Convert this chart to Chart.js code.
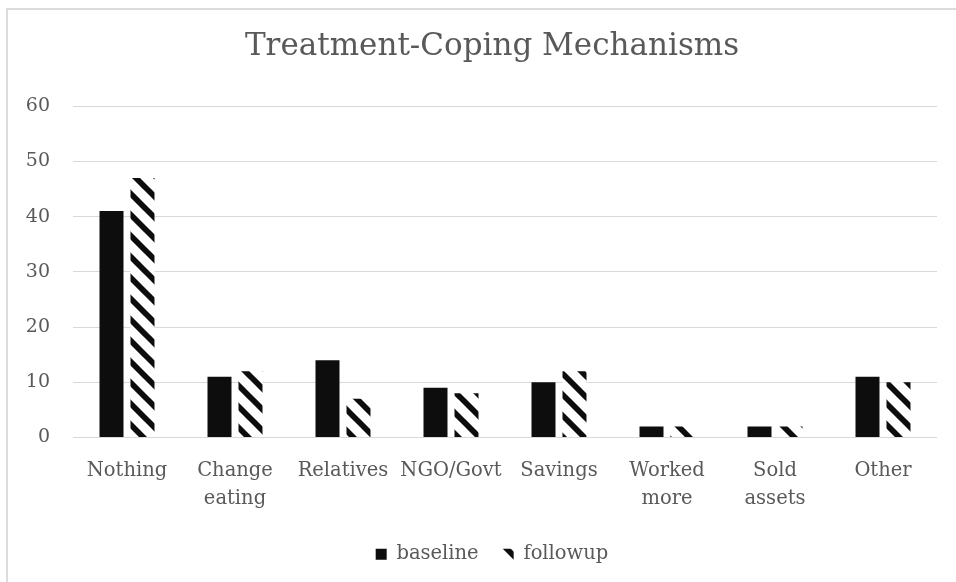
<!DOCTYPE html>
<html>
<head>
<meta charset="utf-8">
<script src="https://cdn.jsdelivr.net/npm/chart.js@4.4.1/dist/chart.umd.min.js"></script>
<style>
  html, body { margin: 0; padding: 0; background: #fff; overflow: hidden; width: 956px; height: 582px; }
  #frame {
    position: absolute; left: 6px; top: 8px; width: 1000px; height: 1000px;
    border: 2px solid #dcdcdc; box-sizing: border-box;
  }
  #chart { position: absolute; left: 0; top: 0; }
</style>
</head>
<body>
<div id="frame"></div>
<canvas id="chart" width="1003" height="582"></canvas>
<script>
const categories = [
  ["Nothing"], ["Change", "eating"], ["Relatives"], ["NGO/Govt"],
  ["Savings"], ["Worked", "more"], ["Sold", "assets"], ["Other"]
];
const baseline = [41, 11, 14, 9, 10, 2, 2, 11];
const followup = [47, 12, 7, 8, 12, 2, 2, 10];
const yMin = 0;
const yMax = 60;
const yStep = 10;

const textColor = "#595959";
const serif = "'DejaVu Serif', 'Liberation Serif', serif";

// wide downward diagonal hatch for the followup series
function makeHatch() {
  const p = 21;
  const c = document.createElement("canvas");
  c.width = p;
  c.height = p;
  const g = c.getContext("2d");
  g.fillStyle = "#fff";
  g.fillRect(0, 0, p, p);
  g.strokeStyle = "#0d0d0d";
  g.lineWidth = 5.8;
  [-p, 0, p].forEach((dx) => {
    g.beginPath();
    g.moveTo(dx - 2, -2);
    g.lineTo(dx + p + 2, p + 2);
    g.stroke();
  });
  return g.createPattern(c, "repeat");
}

const ctx = document.getElementById("chart").getContext("2d");
const hatch = makeHatch();

new Chart(ctx, {
  type: "bar",
  data: {
    labels: categories,
    datasets: [
      {
        label: "baseline",
        data: baseline,
        backgroundColor: "#0d0d0d",
        borderWidth: 0,
        barPercentage: 0.774,
        categoryPercentage: 0.574
      },
      {
        label: "followup",
        data: followup,
        backgroundColor: hatch,
        borderWidth: 0,
        barPercentage: 0.774,
        categoryPercentage: 0.574
      }
    ]
  },
  options: {
    responsive: false,
    animation: false,
    devicePixelRatio: 1,
    layout: { padding: { left: 0, right: 19, top: 8, bottom: 8 } },
    plugins: {
      tooltip: { enabled: false },
      title: {
        display: true,
        text: "Treatment-Coping Mechanisms",
        color: textColor,
        font: { family: serif, size: 31, weight: "normal", lineHeight: 1.2 },
        padding: { top: 20, bottom: 41 }
      },
      legend: {
        position: "bottom",
        labels: {
          color: textColor,
          font: { family: serif, size: 19.5 },
          boxWidth: 11,
          boxHeight: 11,
          padding: 24
        }
      }
    },
    scales: {
      x: {
        grid: { display: false, drawTicks: false },
        border: { display: false },
        ticks: {
          color: textColor,
          font: { family: serif, size: 19.5, lineHeight: 1.45 },
          padding: 19,
          maxRotation: 0,
          autoSkip: false
        },
        afterFit: (s) => { s.height = 83; }
      },
      y: {
        min: yMin,
        max: yMax,
        grid: { color: "#d9d9d9", lineWidth: 1, drawTicks: false },
        border: { display: false },
        ticks: {
          stepSize: yStep,
          color: textColor,
          font: { family: serif, size: 19 },
          padding: 23
        },
        afterFit: (s) => { s.width = 73; }
      },
      // empty right-hand box so title and legend centre like the original frame
      pad: {
        type: "linear",
        position: "right",
        display: true,
        grid: { display: false, drawTicks: false },
        border: { display: false },
        ticks: { display: false },
        afterFit: (s) => { s.width = 47; }
      }
    }
  }
});
</script>
</body>
</html>
